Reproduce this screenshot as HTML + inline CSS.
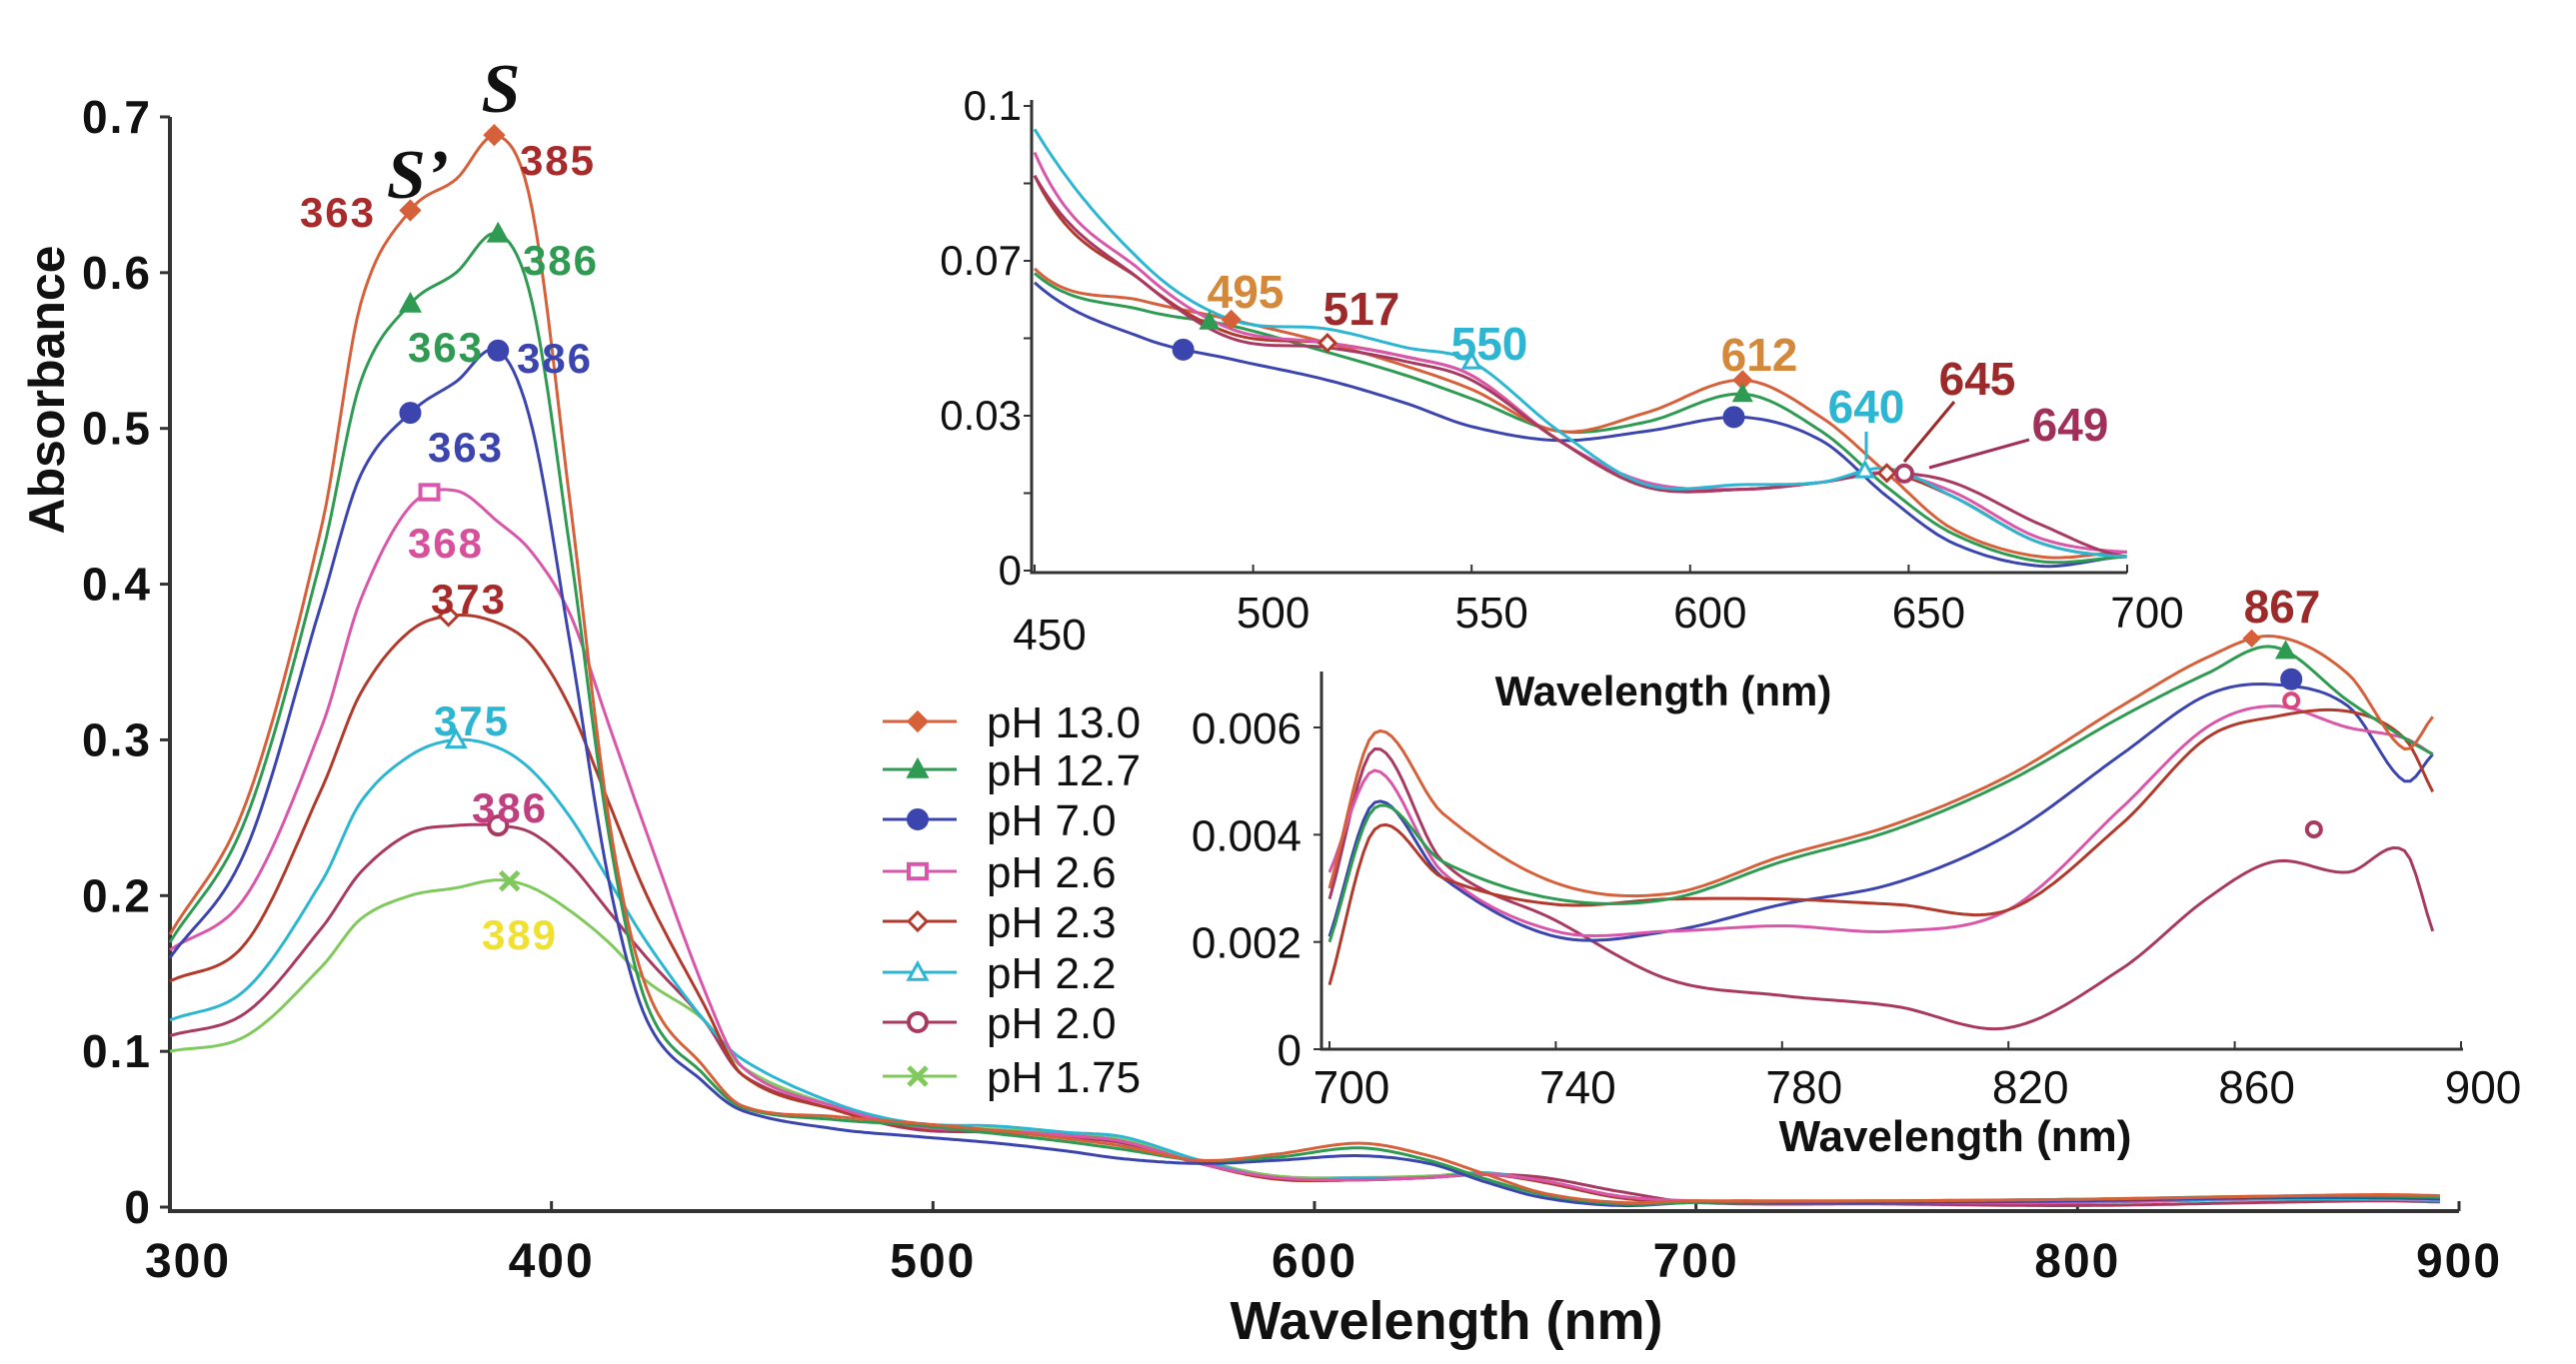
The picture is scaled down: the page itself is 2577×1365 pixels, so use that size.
<!DOCTYPE html>
<html><head><meta charset="utf-8"><style>
html,body{margin:0;padding:0;background:#fff;}
svg{display:block;}
text{font-family:"Liberation Sans",sans-serif;}
text.serif{font-family:"Liberation Serif",serif;}
</style></head><body>
<svg id="chart" width="2577" height="1365" viewBox="0 0 2577 1365" xmlns="http://www.w3.org/2000/svg">
<rect width="2577" height="1365" fill="#fff"/>
<g id="main"></g>
<g id="inset1"></g>
<g id="inset2"></g>
<g id="legend"></g>
</svg>
<script>
const NS="http://www.w3.org/2000/svg";
const seriesNames=["pH 13.0","pH 12.7","pH 7.0","pH 2.6","pH 2.3","pH 2.2","pH 2.0","pH 1.75"];
const seriesColors=["#d5603a","#2f9a52","#3b45ad","#d957aa","#b23a2c","#2db6d2","#a83a62","#80c95c"];
const markerShapes=["diamond","triangle","circle","square","odiamond","otriangle","ocircle","cross"];
// main spectra 300-900 nm
const wl=[300,320,340,350,363,375,386,395,405,415,425,440,450,475,495,517,535,550,570,590,612,630,645,660,680,700,750,800,850,880,900];
const a13 =[0.175,0.26,0.44,0.58,0.64,0.66,0.688,0.64,0.45,0.25,0.14,0.09,0.065,0.058,0.054,0.049,0.044,0.039,0.030,0.034,0.041,0.033,0.021,0.009,0.003,0.004,0.004,0.005,0.007,0.008,0.007];
const a127=[0.17,0.25,0.42,0.53,0.58,0.60,0.625,0.58,0.42,0.24,0.13,0.085,0.064,0.056,0.0527,0.047,0.042,0.037,0.030,0.032,0.038,0.030,0.018,0.008,0.002,0.003,0.004,0.005,0.007,0.007,0.006];
const a70 =[0.16,0.23,0.39,0.47,0.51,0.53,0.55,0.50,0.36,0.21,0.12,0.08,0.062,0.050,0.0455,0.041,0.036,0.031,0.028,0.030,0.033,0.028,0.016,0.006,0.001,0.003,0.003,0.004,0.006,0.006,0.005];
const a26 =[0.165,0.20,0.31,0.39,0.45,0.46,0.44,0.42,0.38,0.31,0.24,0.14,0.09,0.064,0.052,0.049,0.046,0.042,0.028,0.019,0.0175,0.019,0.021,0.017,0.007,0.004,0.003,0.003,0.006,0.006,0.005];
const a23 =[0.145,0.17,0.27,0.33,0.37,0.38,0.375,0.36,0.32,0.26,0.20,0.13,0.085,0.062,0.051,0.049,0.046,0.042,0.028,0.018,0.0175,0.019,0.021,0.016,0.006,0.003,0.003,0.003,0.006,0.006,0.005];
const a22 =[0.12,0.14,0.21,0.26,0.29,0.30,0.295,0.28,0.25,0.21,0.17,0.12,0.095,0.066,0.054,0.052,0.048,0.045,0.030,0.0185,0.0185,0.019,0.022,0.016,0.006,0.003,0.003,0.003,0.005,0.005,0.004];
const a20 =[0.11,0.125,0.18,0.215,0.24,0.245,0.245,0.24,0.22,0.19,0.16,0.12,0.085,0.062,0.050,0.048,0.045,0.041,0.028,0.018,0.0175,0.019,0.021,0.019,0.010,0.003,0.002,0.001,0.003,0.004,0.003];
const a175=[0.10,0.11,0.155,0.185,0.20,0.205,0.21,0.205,0.19,0.17,0.145,0.12,0.09,0.064,0.052,0.050,0.047,0.043,0.030,0.020,0.019,0.020,0.022,0.017,0.007,0.004,0.004,0.004,0.006,0.006,0.005];
const mainSeries=[a13,a127,a70,a26,a23,a22,a20,a175];
// NIR inset 700-900 nm
const nwl=[700,708,720,740,760,780,800,820,840,855,867,880,890,895];
const n13 =[0.0030,0.0059,0.0044,0.0031,0.0029,0.0036,0.0042,0.0051,0.0064,0.0073,0.0077,0.0070,0.0056,0.0062];
const n127=[0.0020,0.0045,0.0035,0.0028,0.0028,0.0035,0.0041,0.0050,0.0062,0.0070,0.0075,0.0065,0.0058,0.0055];
const n70 =[0.0021,0.0046,0.0032,0.0021,0.0022,0.0027,0.0031,0.0040,0.0055,0.0066,0.0068,0.0064,0.0050,0.0055];
const n26 =[0.0033,0.0052,0.0033,0.0022,0.0022,0.0023,0.0022,0.0026,0.0045,0.0060,0.0064,0.0060,0.0058,0.0055];
const n23 =[0.0012,0.0041,0.0032,0.0027,0.0028,0.0028,0.0027,0.0026,0.0042,0.0058,0.0062,0.0063,0.0058,0.0048];
const n20 =[0.0028,0.0056,0.0035,0.0024,0.0013,0.0010,0.0008,0.0004,0.0015,0.0028,0.0035,0.0033,0.0037,0.0022];
const nirSeries=[n13,n127,n70,n26,n23,null,n20,null];
const mainTicksX=[300,400,500,600,700,800,900];
const mainTicksY=[0,0.1,0.2,0.3,0.4,0.5,0.6,0.7];
const in1TicksX=[450,500,550,600,650,700];
const in1TickLabelsY=["0","0.03","0.07","0.1"];
const in2TicksX=[700,740,780,820,860,900];
const in2TicksY=[0,0.002,0.004,0.006];
// peak annotations: [series, wavelength, label, color]
const mainPeaks=[[0,363,"363","#a82a2a"],[0,385,"385","#a82a2a"],[1,363,"363","#2f9a52"],[1,386,"386","#2f9a52"],[2,363,"363","#3b45ad"],[2,386,"386","#3b45ad"],[3,368,"368","#d6509c"],[4,373,"373","#a82a2a"],[5,375,"375","#2db6d2"],[6,386,"386","#c0407f"],[7,389,"389","#f0e030"]];
const mainLabelPos=[[338,213],[558,161],[446,348],[561,261],[466,448],[555,359],[446,544],[469,600],[472,722],[510,809],[520,936]];

function el(tag,attrs,parent){const e=document.createElementNS(NS,tag);for(const k in attrs)e.setAttribute(k,attrs[k]);parent.appendChild(e);return e;}
function lin(d0,d1,r0,r1){return v=>r0+(v-d0)*(r1-r0)/(d1-d0);}
function interp(xs,ys,x){for(let i=0;i<xs.length-1;i++){if(x>=xs[i]&&x<=xs[i+1]){return ys[i]+(ys[i+1]-ys[i])*(x-xs[i])/(xs[i+1]-xs[i]);}}return ys[ys.length-1];}
// smooth (Catmull-Rom style, non-uniform spacing approximated)
function smooth(xs,ys,x){
  for(let i=0;i<xs.length-1;i++){if(x>=xs[i]&&x<=xs[i+1]){
    const h=xs[i+1]-xs[i],t=(x-xs[i])/h;
    const y0=ys[i],y1=ys[i+1];
    const m0=i>0?(ys[i+1]-ys[i-1])/(xs[i+1]-xs[i-1])*h:(y1-y0);
    const m1=i<xs.length-2?(ys[i+2]-ys[i])/(xs[i+2]-xs[i])*h:(y1-y0);
    const t2=t*t,t3=t2*t;
    return (2*t3-3*t2+1)*y0+(t3-2*t2+t)*m0+(-2*t3+3*t2)*y1+(t3-t2)*m1;}}
  return ys[ys.length-1];}
function marker(g,shape,x,y,c,r){
  let m;
  if(shape==="diamond"||shape==="odiamond"){m=el("polygon",{points:`${x},${y-r} ${x+r},${y} ${x},${y+r} ${x-r},${y}`,fill:shape==="diamond"?c:"#fff",stroke:c,"stroke-width":3},g);}
  else if(shape==="triangle"||shape==="otriangle"){m=el("polygon",{points:`${x},${y-r} ${x+r},${y+r*0.8} ${x-r},${y+r*0.8}`,fill:shape==="triangle"?c:"#fff",stroke:c,"stroke-width":3},g);}
  else if(shape==="circle"||shape==="ocircle"){m=el("circle",{cx:x,cy:y,r:r,fill:shape==="circle"?c:"#fff",stroke:c,"stroke-width":4},g);}
  else if(shape==="square"){m=el("rect",{x:x-r,y:y-r*0.8,width:2*r,height:1.6*r,fill:"#fff",stroke:c,"stroke-width":4},g);}
  else {m=el("path",{d:`M${x-r},${y-r}L${x+r},${y+r}M${x+r},${y-r}L${x-r},${y+r}`,stroke:c,"stroke-width":5},g);}
  
  
  return m;
}
function drawSeries(g,xs,ys,sx,sy,x0,x1,c,w){
  let d="";const step=1;
  for(let x=Math.max(x0,xs[0]);x<=Math.min(x1,xs[xs.length-1]);x+=step){
    const v=smooth(xs,ys,x);d+=(d?"L":"M")+sx(x).toFixed(1)+","+sy(v).toFixed(1);}
  const p=el("path",{d:d,fill:"none",stroke:c,"stroke-width":w,"stroke-linejoin":"round"},g);
  
  
}
function txt(g,x,y,s,opts,name){const t=el("text",Object.assign({x:x,y:y},opts),g);t.textContent=s;return t;}

// ---------- main plot ----------
(function(){
  const g=document.getElementById("main");
  const sx=lin(300,900,170,2460), sy=lin(0,0.7,1208,117);
  const ax=el("path",{d:`M170,117V1212H2460`,fill:"none",stroke:"#333","stroke-width":4},g);
  
  mainTicksY.forEach(v=>{el("line",{x1:160,x2:170,y1:sy(v),y2:sy(v),stroke:"#333","stroke-width":3},g);
    txt(g,152,sy(v)+16,String(v),{"text-anchor":"end","font-size":46,"font-weight":"bold",fill:"#111","letter-spacing":"2"},"y-tick-label");});
  mainTicksX.forEach(v=>{el("line",{x1:sx(v),x2:sx(v),y1:1212,y2:1202,stroke:"#333","stroke-width":3},g);
    txt(g,sx(v)+(v===300?18:0),1278,String(v),{"text-anchor":"middle","font-size":48,"font-weight":"bold",fill:"#111","letter-spacing":"2"},"x-tick-label");});
  txt(g,1447,1340,"Wavelength (nm)",{"text-anchor":"middle","font-size":54,"font-weight":"bold",fill:"#111"},"x-axis-title");
  txt(g,0,0,"Absorbance",{"text-anchor":"middle","font-size":50,"font-weight":"bold",fill:"#111",transform:"translate(64,390) rotate(-90)"},"y-axis-title");
  for(let i=mainSeries.length-1;i>=0;i--) drawSeries(g,wl,mainSeries[i],sx,sy,300,895,seriesColors[i],3);
  mainPeaks.forEach((p,k)=>{const v=smooth(wl,mainSeries[p[0]],p[1]);marker(g,markerShapes[p[0]],sx(p[1]),sy(v),seriesColors[p[0]],9);
    txt(g,mainLabelPos[k][0],mainLabelPos[k][1]+14,p[2],{"text-anchor":"middle","font-size":42,"font-weight":"bold",fill:p[3],"letter-spacing":"2"},"peak-label");});
  txt(g,501,112,"S",{"text-anchor":"middle","font-size":70,"font-weight":"bold","font-style":"italic",class:"serif",fill:"#111"},"band-s-label");
  txt(g,418,198,"S’",{"text-anchor":"middle","font-size":70,"font-weight":"bold","font-style":"italic",class:"serif",fill:"#111"},"band-s-prime-label");
})();

// ---------- inset 1 (450-700) ----------
(function(){
  const g=document.getElementById("inset1");
  const sx=lin(450,700,1035,2128), sy=lin(0,0.1,571,106);
  const ax=el("path",{d:`M1032,100V573H2128`,fill:"none",stroke:"#333","stroke-width":3},g);
  
  for(let k=0;k<=6;k++){const y=sy(k/60);el("line",{x1:1024,x2:1032,y1:y,y2:y,stroke:"#333","stroke-width":2},g);}
  in1TickLabelsY.forEach((s,k)=>{txt(g,1022,sy(k*2/60)+14,s,{"text-anchor":"end","font-size":42,fill:"#111"},"inset1-y-tick-label");});
  in1TicksX.forEach(v=>{el("line",{x1:sx(v),x2:sx(v),y1:573,y2:565,stroke:"#333","stroke-width":2},g);
    txt(g,v===450?1050:sx(v)+20,v===450?650:628,String(v),{"text-anchor":"middle","font-size":44,fill:"#111"},"inset1-x-tick-label");});
  txt(g,1664,706,"Wavelength (nm)",{"text-anchor":"middle","font-size":42,"font-weight":"bold",fill:"#111"},"inset1-x-axis-title");
  [2,1,0,4,3,6,5].forEach(i=>drawSeries(g,wl,mainSeries[i],sx,sy,450,700,seriesColors[i],3));
  const ip=[[0,495,1246,292,"495","#d4893a"],[4,517,1362,309,"517","#9c2a2a"],[5,550,1490,344,"550","#2db6d2"],[0,612,1760,355,"612","#d4893a"],[5,640,1867,407,"640","#2db6d2"],[4,645,1978,379,"645","#9c2a2a"],[6,649,2071,425,"649","#a0305a"]];
  ip.forEach(p=>{const v=smooth(wl,mainSeries[p[0]],p[1]);marker(g,markerShapes[p[0]],sx(p[1]),sy(v),seriesColors[p[0]],8);
    txt(g,p[2],p[3]+16,p[4],{"text-anchor":"middle","font-size":46,"font-weight":"bold",fill:p[5]},"inset1-peak-label");});
  marker(g,"circle",sx(484),sy(smooth(wl,a70,484)),seriesColors[2],9);
  marker(g,"triangle",sx(490),sy(smooth(wl,a127,490)),seriesColors[1],8);
  marker(g,"circle",sx(610),sy(smooth(wl,a70,610)),seriesColors[2],9);
  marker(g,"triangle",sx(612),sy(smooth(wl,a127,612)),seriesColors[1],8);
  el("line",{x1:1867,y1:432,x2:1867,y2:460,stroke:"#2db6d2","stroke-width":3},g);
  el("line",{x1:1955,y1:402,x2:1905,y2:462,stroke:"#9c2a2a","stroke-width":3},g);
  el("line",{x1:2030,y1:440,x2:1930,y2:468,stroke:"#a0305a","stroke-width":3},g);
})();

// ---------- inset 2 (700-900) ----------
(function(){
  const g=document.getElementById("inset2");
  const sx=lin(700,900,1330,2462), sy=lin(0,0.006,1050,728);
  const ax=el("path",{d:`M1322,672V1050H2464`,fill:"none",stroke:"#333","stroke-width":3},g);
  
  in2TicksY.forEach(v=>{el("line",{x1:1314,x2:1322,y1:sy(v),y2:sy(v),stroke:"#333","stroke-width":2},g);
    txt(g,1302,sy(v)+16,String(v),{"text-anchor":"end","font-size":44,fill:"#111"},"inset2-y-tick-label");});
  in2TicksX.forEach(v=>{el("line",{x1:sx(v),x2:sx(v),y1:1050,y2:1042,stroke:"#333","stroke-width":2},g);
    txt(g,sx(v)+22,1104,String(v),{"text-anchor":"middle","font-size":46,fill:"#111"},"inset2-x-tick-label");});
  txt(g,1956,1152,"Wavelength (nm)",{"text-anchor":"middle","font-size":44,"font-weight":"bold",fill:"#111"},"inset2-x-axis-title");
  [6,2,3,4,1,0].forEach(i=>drawSeries(g,nwl,nirSeries[i],sx,sy,700,895,seriesColors[i],3));
  marker(g,"diamond",sx(863),sy(smooth(nwl,n13,863)),seriesColors[0],7);
  marker(g,"triangle",sx(869),sy(smooth(nwl,n127,869)),seriesColors[1],8);
  marker(g,"circle",sx(870),sy(0.0069),seriesColors[2],9);
  marker(g,"ocircle",sx(870),sy(0.0065),"#d9467a",7);
  marker(g,"ocircle",sx(874),sy(0.0041),seriesColors[6],7);
  txt(g,2283,623,"867",{"text-anchor":"middle","font-size":46,"font-weight":"bold",fill:"#9c2a2a"},"inset2-peak-label");
})();

// ---------- legend ----------
(function(){
  const g=document.getElementById("legend");
  const rows=[722,770,820,872,922,973,1023,1077];
  seriesNames.forEach((n,i)=>{
    const ln=el("line",{x1:883,x2:957,y1:rows[i],y2:rows[i],stroke:seriesColors[i],"stroke-width":3},g);
    
    marker(g,markerShapes[i],918,rows[i],seriesColors[i],9);
    txt(g,987,rows[i]+16,n,{"font-size":44,fill:"#111"},"legend-entry");
  });
})();
</script>
</body></html>
